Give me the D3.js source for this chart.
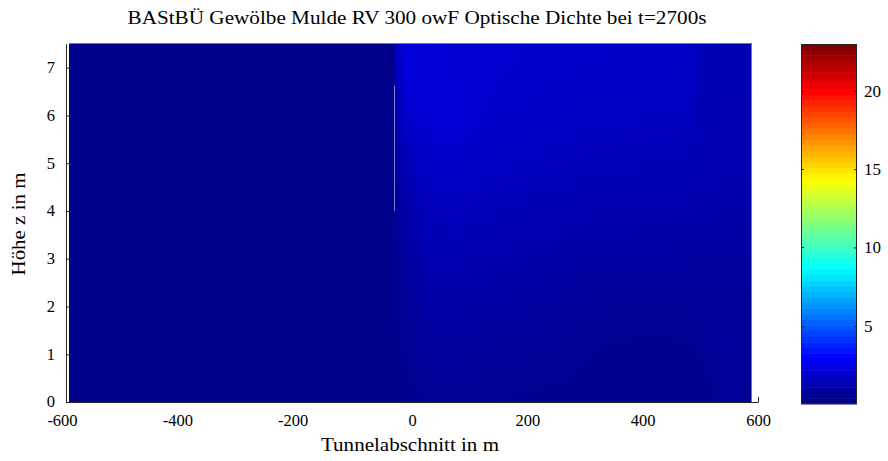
<!DOCTYPE html>
<html><head><meta charset="utf-8">
<script src="https://cdn.jsdelivr.net/npm/d3@7"></script>
<style>
body{margin:0;background:#fff}
svg text{font-family:"Liberation Serif","DejaVu Serif",serif;fill:#000}
</style>
</head><body>
<svg id="chart" width="888" height="461"></svg>
<script>
// ---------- data ----------
const chartTitle = "BAStBÜ Gewölbe Mulde RV 300 owF Optische Dichte bei t=2700s";
const xLabel = "Tunnelabschnitt in m";
const yLabel = "Höhe z in m";
const xTicks = [-600, -400, -200, 0, 200, 400, 600];
const yTicks = [0, 1, 2, 3, 4, 5, 6, 7];
const cTicks = [5, 10, 15, 20];
const colorRange = [0, 23];

// measurement positions along the tunnel (m) and heights (m)
const tunnelX = [-595, -33, -28, -10, 10, 30, 60, 90, 120, 150, 180, 210, 240, 270, 300, 330, 360, 390, 420, 450, 480, 510, 540, 570, 590];
const heightZ = [0, 1, 2, 3, 4, 5, 6, 7, 7.5];

// optical density, one row per height (z = 0 ... 7.5)
const dens_z0   = [0.25,0.25,0.28,0.32,0.35,0.38,0.40,0.42,0.40,0.38,0.36,0.35,0.34,0.32,0.30,0.30,0.28,0.28,0.28,0.28,0.28,0.30,0.45,0.55,0.35];
const dens_z1   = [0.25,0.25,0.32,0.42,0.50,0.62,0.68,0.62,0.58,0.55,0.52,0.50,0.47,0.45,0.40,0.36,0.34,0.33,0.33,0.33,0.34,0.45,0.65,0.55,0.40];
const dens_z2   = [0.25,0.25,0.38,0.50,0.70,0.85,0.88,0.85,0.82,0.80,0.75,0.70,0.66,0.62,0.55,0.52,0.50,0.50,0.50,0.50,0.52,0.55,0.58,0.55,0.50];
const dens_z3   = [0.25,0.25,0.45,0.65,0.90,1.05,1.08,1.05,1.02,1.00,0.95,0.92,0.90,0.85,0.80,0.78,0.78,0.76,0.75,0.75,0.72,0.70,0.70,0.68,0.68];
const dens_z4   = [0.25,0.25,0.55,0.90,1.20,1.35,1.40,1.38,1.30,1.25,1.20,1.15,1.15,1.10,1.05,1.02,1.05,1.05,1.05,1.02,1.00,0.95,0.95,0.92,0.90];
const dens_z5   = [0.25,0.25,0.70,1.25,1.45,1.55,1.65,1.60,1.55,1.50,1.48,1.45,1.40,1.38,1.32,1.30,1.30,1.28,1.25,1.25,1.22,1.10,1.08,1.05,1.05];
const dens_z6   = [0.25,0.25,0.90,1.75,1.85,1.90,2.00,1.95,1.80,1.70,1.65,1.62,1.60,1.55,1.52,1.50,1.50,1.48,1.45,1.45,1.42,1.15,1.12,1.10,1.10];
const dens_z7   = [0.25,0.25,1.30,2.05,2.00,1.92,1.88,1.85,1.82,1.80,1.78,1.75,1.72,1.70,1.68,1.66,1.65,1.62,1.60,1.58,1.55,1.22,1.18,1.15,1.15];
const dens_z7_5 = [0.25,0.25,1.45,2.10,2.05,1.95,1.90,1.86,1.84,1.82,1.80,1.76,1.74,1.72,1.70,1.68,1.66,1.64,1.62,1.60,1.58,1.25,1.20,1.16,1.16];
const density = [dens_z0, dens_z1, dens_z2, dens_z3, dens_z4, dens_z5, dens_z6, dens_z7, dens_z7_5];

// thin light streak in the field (x in m, z in m)
const streakX = -32;
const streakZ = [4.0, 6.62];

// ---------- scales ----------
const svg = d3.select("#chart");
const serif = '"Liberation Serif","DejaVu Serif",serif';
const x = d3.scaleLinear().domain([-600, 600]).range([66, 758]);
const y = d3.scaleLinear().domain([0, 7.5]).range([402, 43.8]);
const jetStops = [0, 1/8, 3/8, 5/8, 7/8, 1];
const color = d3.scaleLinear()
  .domain(jetStops.map(t => colorRange[0] + t * (colorRange[1] - colorRange[0])))
  .range(["#000080", "#0000ff", "#00ffff", "#ffff00", "#ff0000", "#800000"])
  .clamp(true);

// ---------- axes (drawn below the field) ----------
const axisColor = "#262626";
const gx = svg.append("g").attr("transform", `translate(0,${y(0)})`)
  .call(d3.axisBottom(x).tickValues(xTicks).tickSizeInner(-5).tickSizeOuter(0).tickPadding(12)
    .tickFormat(d => d < 0 ? "-" + Math.abs(d) : String(d)));
gx.attr("font-family", serif).attr("font-size", 16.5);
gx.selectAll("text").attr("dx", d => d < 0 ? -4 : 0);
const gy = svg.append("g").attr("transform", `translate(${x(-600)},0)`)
  .call(d3.axisLeft(y).tickValues(yTicks).tickSizeInner(-3).tickSizeOuter(0).tickPadding(11));
gy.attr("font-family", serif).attr("font-size", 16.5);
gy.selectAll("text").attr("dy", "0.3em");
svg.selectAll(".domain, .tick line").attr("stroke", axisColor);

// ---------- field (interpolated shading) ----------
function valueAt(xv, zv) {
  const i = Math.max(0, Math.min(tunnelX.length - 2, d3.bisectRight(tunnelX, xv) - 1));
  const j = Math.max(0, Math.min(heightZ.length - 2, d3.bisectRight(heightZ, zv) - 1));
  const tx = Math.max(0, Math.min(1, (xv - tunnelX[i]) / (tunnelX[i + 1] - tunnelX[i])));
  const tz = Math.max(0, Math.min(1, (zv - heightZ[j]) / (heightZ[j + 1] - heightZ[j])));
  const a = density[j][i] * (1 - tx) + density[j][i + 1] * tx;
  const b = density[j + 1][i] * (1 - tx) + density[j + 1][i + 1] * tx;
  return a * (1 - tz) + b * tz;
}
const px0 = Math.round(x(tunnelX[0])), px1 = Math.round(x(tunnelX[tunnelX.length - 1]));
const py0 = Math.floor(y(heightZ[heightZ.length - 1])), py1 = Math.round(y(heightZ[0]));
const W = px1 - px0, H = py1 - py0;
const canvas = document.createElement("canvas");
canvas.width = W; canvas.height = H;
const ctx = canvas.getContext("2d");
const img = ctx.createImageData(W, H);
for (let r = 0; r < H; r++) {
  const zv = y.invert(py0 + r + 0.5);
  for (let c = 0; c < W; c++) {
    const xv = x.invert(px0 + c + 0.5);
    const col = d3.rgb(color(valueAt(xv, zv)));
    const k = (r * W + c) * 4;
    img.data[k] = col.r; img.data[k + 1] = col.g; img.data[k + 2] = col.b; img.data[k + 3] = 255;
  }
}
ctx.putImageData(img, 0, 0);
svg.append("image")
  .attr("x", px0).attr("y", py0).attr("width", W).attr("height", H)
  .attr("preserveAspectRatio", "none")
  .attr("href", canvas.toDataURL());

// light edge on top and right of the field
svg.append("path")
  .attr("d", `M${px0},${py0 + 0.5}H${px1 - 0.5}V${py1}`)
  .attr("fill", "none").attr("stroke", "#6f6fcf").attr("stroke-width", 1);

// thin streak
svg.append("line")
  .attr("x1", Math.round(x(streakX)) + 0.5).attr("x2", Math.round(x(streakX)) + 0.5)
  .attr("y1", y(streakZ[1])).attr("y2", y(streakZ[0]))
  .attr("stroke", "#8080d8").attr("stroke-width", 1);

// ---------- colorbar ----------
const cbX = 801, cbW = 56;
const cy = d3.scaleLinear().domain(colorRange).range([404, 44]);
const nBands = 64;
const bands = d3.range(nBands);
const bandV = i => colorRange[0] + i / nBands * (colorRange[1] - colorRange[0]);
svg.append("g").selectAll("rect").data(bands).join("rect")
  .attr("x", cbX)
  .attr("y", i => cy(bandV(i + 1)))
  .attr("width", cbW)
  .attr("height", i => cy(bandV(i)) - cy(bandV(i + 1)) + 0.5)
  .attr("fill", i => color(colorRange[0] + i / (nBands - 1) * (colorRange[1] - colorRange[0])));
svg.append("rect").attr("x", cbX + 0.5).attr("y", 44.5).attr("width", cbW - 1).attr("height", 359)
  .attr("fill", "none").attr("stroke", axisColor).attr("stroke-width", 1);
const gc = svg.append("g").attr("transform", `translate(${cbX + cbW},0)`)
  .call(d3.axisRight(cy).tickValues(cTicks).tickSizeInner(-3).tickSizeOuter(0).tickPadding(7));
gc.attr("font-family", serif).attr("font-size", 17);
gc.select(".domain").remove();
gc.selectAll(".tick line").attr("stroke", axisColor);
svg.append("g").selectAll("line").data(cTicks).join("line")
  .attr("x1", cbX).attr("x2", cbX + 3)
  .attr("y1", d => Math.round(cy(d)) + 0.5).attr("y2", d => Math.round(cy(d)) + 0.5)
  .attr("stroke", axisColor);

// ---------- titles ----------
svg.append("text").attr("x", 417).attr("y", 24).attr("text-anchor", "middle")
  .attr("font-size", 18).attr("textLength", 579).attr("lengthAdjust", "spacingAndGlyphs")
  .text(chartTitle);
svg.append("text").attr("x", 410).attr("y", 451).attr("text-anchor", "middle")
  .attr("font-size", 18).attr("textLength", 178).attr("lengthAdjust", "spacingAndGlyphs")
  .text(xLabel);
svg.append("text").attr("transform", "translate(25,224) rotate(-90)").attr("text-anchor", "middle")
  .attr("font-size", 18).attr("textLength", 103).attr("lengthAdjust", "spacingAndGlyphs")
  .text(yLabel);
</script>
</body></html>
